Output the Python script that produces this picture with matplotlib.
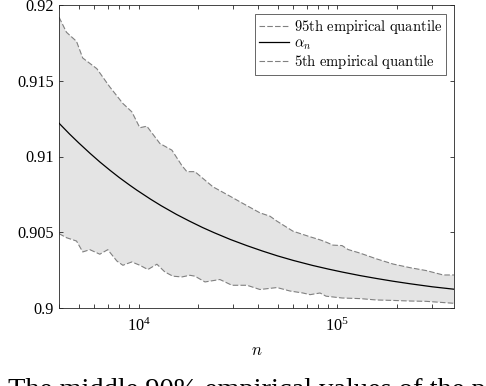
import matplotlib
matplotlib.use("Agg")
import matplotlib.pyplot as plt
import numpy as np
from matplotlib.font_manager import FontProperties
from matplotlib.ticker import FixedLocator, FormatStrFormatter, LogLocator, NullFormatter

plt.rcParams['font.family'] = 'Liberation Serif'
plt.rcParams['mathtext.fontset'] = 'stix'

# 95th empirical quantile
n_upper = [3980, 4340, 4875, 5240, 6165, 7160, 8340, 9250, 10150, 11010, 12800, 14710,
           16520, 17500, 19210, 21090, 23660, 28840, 33500, 40800, 45800, 49700, 59800,
           72900, 81800, 87700, 95100, 105600, 113200, 130200, 156700, 190800, 232300,
           279900, 340600, 386000]
q95 = [0.9192, 0.9182, 0.9176, 0.9165, 0.9158, 0.9146, 0.9135, 0.91295, 0.9119, 0.9120,
       0.91086, 0.91042, 0.9094, 0.9090, 0.9090, 0.90855, 0.9080, 0.90738, 0.9069,
       0.90628, 0.90606, 0.90573, 0.90507, 0.9047, 0.9045, 0.90435, 0.90415, 0.90412,
       0.90386, 0.90362, 0.90325, 0.9029, 0.90266, 0.90247, 0.90218, 0.90218]

# 5th empirical quantile
n_lower = [3980, 4340, 4875, 5240, 5690, 6385, 7000, 7780, 8340, 9250, 10150, 11140,
           12370, 13560, 14880, 16520, 18120, 19210, 21580, 25650, 29500, 35100, 40800,
           49700, 57800, 67100, 72900, 81800, 87700, 105600, 130200, 156700, 190800,
           232300, 279900, 340600, 386000]
q05 = [0.90491, 0.90464, 0.90442, 0.9037, 0.90385, 0.90355, 0.90385, 0.9031, 0.90282,
       0.90304, 0.90282, 0.90254, 0.90289, 0.90238, 0.9021, 0.90205, 0.90216, 0.9021,
       0.90172, 0.90188, 0.9015, 0.9015, 0.90122, 0.90135, 0.90112, 0.90099, 0.90088,
       0.90099, 0.90078, 0.90066, 0.90062, 0.90053, 0.9005, 0.90046, 0.90044, 0.90036,
       0.90031]

# alpha_n
n_alpha = [3980, 4500, 5000, 5700, 6400, 7200, 8000, 9000, 9800, 11500, 13000, 15500,
           18000, 21000, 24000, 29000, 35000, 42000, 50000, 60000, 75000, 90000, 106000,
           130000, 157000, 190000, 232000, 300000, 386000]
alpha = [0.9122, 0.91148, 0.9109, 0.91021, 0.90963, 0.90908, 0.90861, 0.90812, 0.90778,
         0.90718, 0.90675, 0.90618, 0.90574, 0.90531, 0.90497, 0.90452, 0.90412, 0.90376,
         0.90344, 0.90314, 0.90281, 0.90257, 0.90237, 0.90214, 0.90195, 0.90177, 0.9016,
         0.9014, 0.90124]

y_ticks = [0.9, 0.905, 0.91, 0.915, 0.92]
caption = "The middle 90% empirical values of the point"

fig = plt.figure(figsize=(4.86, 3.86), dpi=100)
ax = fig.add_axes([59 / 486, 78 / 386, 395 / 486, 303 / 386])

# shaded band between the quantiles
ax.fill(np.concatenate([n_upper, n_lower[::-1]]), np.concatenate([q95, q05[::-1]]),
        color='0.895', lw=0, zorder=1)
dash = (0, (5, 2))
ax.plot(n_upper, q95, color='0.5', lw=0.8, ls=dash, zorder=2,
        label=r'$\mathrm{95th\ empirical\ quantile}$')
ax.plot(n_alpha, alpha, color='k', lw=0.9, zorder=3, label=r'$\alpha_n$')
ax.plot(n_lower, q05, color='0.5', lw=0.8, ls=dash, zorder=2,
        label=r'$\mathrm{5th\ empirical\ quantile}$')

ax.set_xscale('log')
ax.set_xlim(3980, 386000)
ax.set_ylim(0.9, 0.92)
ax.yaxis.set_major_locator(FixedLocator(y_ticks))
ax.yaxis.set_major_formatter(FormatStrFormatter('%g'))
ax.xaxis.set_minor_locator(LogLocator(base=10, subs=np.arange(2, 10)))
ax.xaxis.set_minor_formatter(NullFormatter())

ax.tick_params(which='both', direction='in', top=True, right=True, color='0.15',
               width=0.6, labelsize=11.7)
ax.tick_params(which='major', length=3)
ax.tick_params(which='minor', length=3)
ax.tick_params(axis='x', pad=7)
for sp in ax.spines.values():
    sp.set_color('0.15')
    sp.set_linewidth(0.6)

ax.set_xlabel('$n$', math_fontfamily='cm', fontsize=12, labelpad=6)

leg_font = FontProperties(size=10.5, math_fontfamily='cm')
leg = ax.legend(loc='upper right', bbox_to_anchor=(0.98, 0.97), borderaxespad=0,
                prop=leg_font, fancybox=False, framealpha=1, edgecolor='0.3',
                handlelength=2.1, handletextpad=0.35, labelspacing=0.1, borderpad=0.25)
leg.get_frame().set_linewidth(0.6)

# caption of the page, cut at the bottom edge
fig.text(0.016, -0.028, caption, fontsize=20.5, va='baseline', family='Liberation Serif')

fig.savefig('out.png', dpi=100)
